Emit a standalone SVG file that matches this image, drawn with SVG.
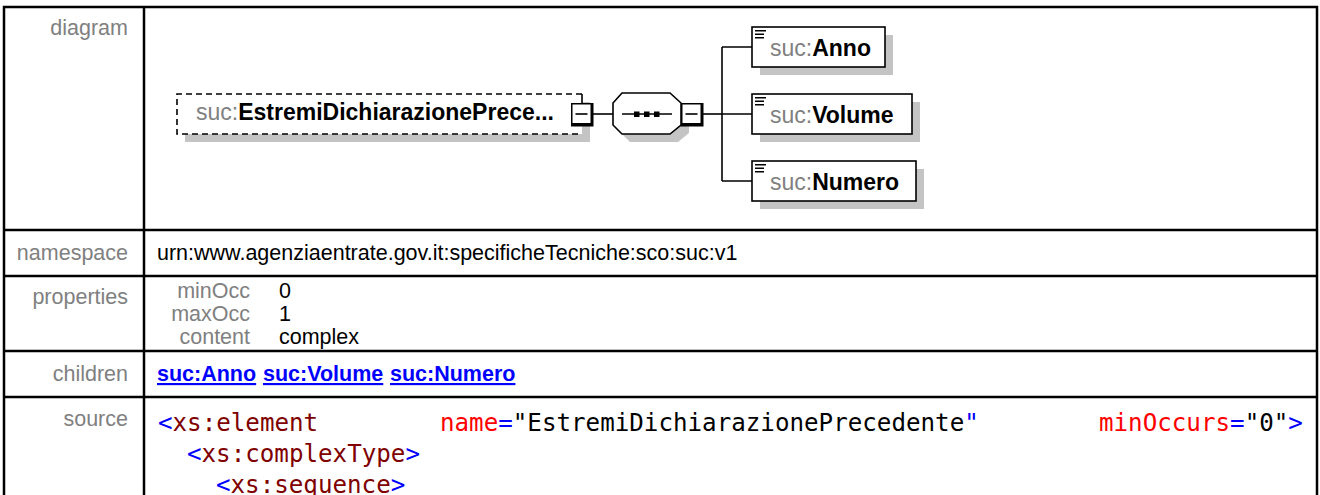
<svg xmlns="http://www.w3.org/2000/svg" width="1320" height="495" viewBox="0 0 1320 495">
<style>
.lbl{font-family:"Liberation Sans",Arial,sans-serif;font-size:21.5px;fill:#808080}
.val{font-family:"Liberation Sans",Arial,sans-serif;font-size:21.5px;fill:#000}
.lnk{font-family:"Liberation Sans",Arial,sans-serif;font-size:21.5px;font-weight:bold;fill:#0000ff;text-decoration:underline}
.grid{stroke:#000;stroke-width:2.5;fill:none}
.dg{font-family:"Liberation Sans",Arial,sans-serif;font-size:23px}
.ns{fill:#808080;font-weight:normal}
.ln{fill:#000;font-weight:bold}
.shadow{fill:#c4c4c4;stroke:none}
.box{fill:#fff;stroke:#000;stroke-width:1.6}
.conn{stroke:#000;stroke-width:1.6;fill:none}
.thick{stroke:#000;stroke-width:3;fill:none}
.code{font-family:"DejaVu Sans Mono","Liberation Mono",monospace;font-size:24.2px}
.tg{fill:#0000ff}.en{fill:#800000}.an{fill:#ff0000}.av{fill:#000}
</style>
<defs>
<g id="minusbox">
<rect x="0.75" y="0.75" width="20" height="20" fill="#fff" stroke="#000" stroke-width="1.5"/>
<path d="M21,0 V22 H0" class="thick"/>
<path d="M4.5,11 H16.5" stroke="#000" stroke-width="1.6"/>
</g>
<g id="icon">
<path d="M0,0.75 H11 M0,4.25 H9 M0,7.75 H9" stroke="#000" stroke-width="1.5"/>
</g>
</defs>
<rect x="0" y="0" width="1320" height="495" fill="#fff"/>

<!-- table -->
<g id="table">
<path class="grid" d="M4,497 V7 H1317 V497"/>
<path class="grid" d="M144,7 V497"/>
<path class="grid" d="M4,230 H1317 M4,276 H1317 M4,351 H1317 M4,397 H1317"/>
<text class="lbl" x="128" y="35" text-anchor="end">diagram</text>
<text class="lbl" x="128" y="260" text-anchor="end">namespace</text>
<text class="val" x="157" y="260">urn:www.agenziaentrate.gov.it:specificheTecniche:sco:suc:v1</text>
<text class="lbl" x="128" y="304" text-anchor="end">properties</text>
<text class="lbl" x="250" y="298" text-anchor="end">minOcc</text>
<text class="val" x="279" y="298">0</text>
<text class="lbl" x="250" y="321" text-anchor="end">maxOcc</text>
<text class="val" x="279" y="321">1</text>
<text class="lbl" x="250" y="344" text-anchor="end">content</text>
<text class="val" x="279" y="344">complex</text>
<text class="lbl" x="128" y="381" text-anchor="end">children</text>
<text class="lnk" x="157" y="381">suc:Anno</text>
<text class="lnk" x="263" y="381">suc:Volume</text>
<text class="lnk" x="390" y="381">suc:Numero</text>
<text class="lbl" x="128" y="426" text-anchor="end">source</text>
<text class="code" x="158" y="431"><tspan class="tg">&lt;</tspan><tspan class="en">xs:element</tspan></text>
<text class="code" x="440" y="431"><tspan class="an">name</tspan><tspan class="tg">=</tspan><tspan class="av">"EstremiDichiarazionePrecedente</tspan><tspan class="tg">"</tspan></text>
<text class="code" x="1099" y="431"><tspan class="an">minOccurs</tspan><tspan class="tg">=</tspan><tspan class="av">"0"</tspan><tspan class="tg">&gt;</tspan></text>
<text class="code" x="187" y="462"><tspan class="tg">&lt;</tspan><tspan class="en">xs:complexType</tspan><tspan class="tg">&gt;</tspan></text>
<text class="code" x="216" y="493"><tspan class="tg">&lt;</tspan><tspan class="en">xs:sequence</tspan><tspan class="tg">&gt;</tspan></text>
</g>

<!-- connectors -->
<g id="connectors">
<path class="conn" d="M593,114 H613"/>
<path class="conn" d="M703,114 H722"/>
<path class="conn" d="M722,47 V181"/>
<path class="conn" d="M722,47 H752 M722,114 H752 M722,181 H752"/>
</g>

<!-- element node -->
<g id="node-EstremiDichiarazionePrecedente">
<rect class="shadow" x="185" y="102" width="405" height="40"/>
<rect x="177" y="94" width="405" height="40" fill="#fff"/>
<path d="M582,94 H177 V134 H582" fill="none" stroke="#000" stroke-width="1.6" stroke-dasharray="6,4"/>
<path d="M582,94 V103" stroke="#000" stroke-width="1.6"/>
<text class="dg" x="196" y="120"><tspan class="ns">suc:</tspan><tspan class="ln">EstremiDichiarazionePrece...</tspan></text>
<use href="#minusbox" x="571" y="103"/>
</g>

<!-- sequence compositor -->
<g id="node-sequence">
<polygon class="shadow" points="630,101 678,101 689,111 689,133 678,142 630,142 621,133 621,111"/>
<polygon class="box" points="622,93 670,93 681,103 681,125 670,134 622,134 613,125 613,103"/>
<path d="M622,114 H672" stroke="#000" stroke-width="1.6"/>
<rect x="634" y="111.5" width="5.5" height="5.5" fill="#000"/>
<rect x="644" y="111.5" width="5.5" height="5.5" fill="#000"/>
<rect x="654" y="111.5" width="5.5" height="5.5" fill="#000"/>
<use href="#minusbox" x="681" y="103"/>
</g>

<!-- child nodes -->
<g id="node-Anno">
<rect class="shadow" x="760" y="35" width="133" height="40"/>
<rect class="box" x="752" y="27" width="133" height="40"/>
<use href="#icon" x="755" y="30"/>
<text class="dg" x="770" y="56"><tspan class="ns">suc:</tspan><tspan class="ln">Anno</tspan></text>
</g>
<g id="node-Volume">
<rect class="shadow" x="760" y="102" width="160" height="40"/>
<rect class="box" x="752" y="94" width="160" height="40"/>
<use href="#icon" x="755" y="97"/>
<text class="dg" x="770" y="123"><tspan class="ns">suc:</tspan><tspan class="ln">Volume</tspan></text>
</g>
<g id="node-Numero">
<rect class="shadow" x="760" y="169" width="164" height="40"/>
<rect class="box" x="752" y="161" width="164" height="40"/>
<use href="#icon" x="755" y="164"/>
<text class="dg" x="770" y="190"><tspan class="ns">suc:</tspan><tspan class="ln">Numero</tspan></text>
</g>
</svg>
